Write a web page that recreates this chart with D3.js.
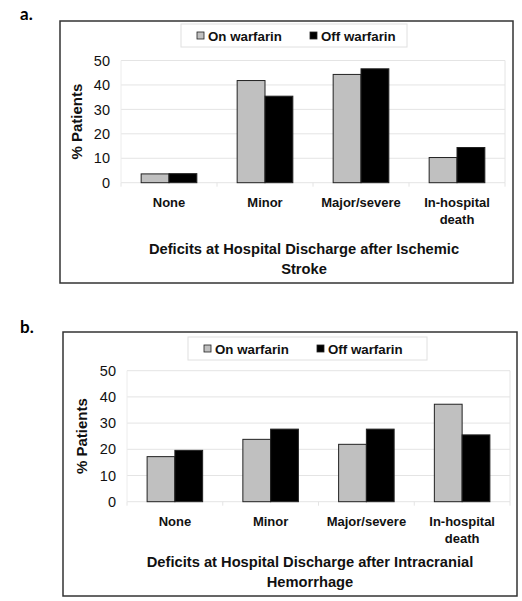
<!DOCTYPE html>
<html><head><meta charset="utf-8">
<script src="https://cdn.jsdelivr.net/npm/d3@7"></script>
<style>body{margin:0;background:#fff}svg{display:block}</style>
</head><body>
<svg id="chart" width="522" height="601"></svg>
<script>
const categories = ["None", "Minor", "Major/severe", "In-hospital death"];
const seriesNames = ["On warfarin", "Off warfarin"];
const seriesColors = ["#c0c0c0", "#000000"];
const yTicks = [0, 10, 20, 30, 40, 50];
const ischemicOn  = [3.6, 41.8, 44.3, 10.3];
const ischemicOff = [3.7, 35.4, 46.6, 14.4];
const hemorrhageOn  = [17.2, 23.8, 21.9, 37.2];
const hemorrhageOff = [19.6, 27.7, 27.7, 25.5];

const svg = d3.select("#chart");
const font = "Liberation Sans, Arial, sans-serif";

function panel(o) {
  const g = svg.append("g");
  g.append("text").attr("x", o.labelX).attr("y", o.labelY).text(o.label)
    .attr("font-family", "Lato, sans-serif").attr("font-weight", "bold").attr("font-size", 17).attr("fill", "#000");
  g.append("rect").attr("x", o.box[0]).attr("y", o.box[1]).attr("width", o.box[2]).attr("height", o.box[3])
    .attr("fill", "#fff").attr("stroke", "#333").attr("stroke-width", 1.5);

  const x = d3.scaleBand().domain(categories).range([o.px0, o.px1]).paddingInner(0.42).paddingOuter(0.21);
  const xs = d3.scaleBand().domain(seriesNames).range([0, x.bandwidth()]);
  const y = d3.scaleLinear().domain([0, 50]).range([o.py0, o.py1]);

  g.append("g").selectAll("line").data(yTicks).join("line")
    .attr("x1", o.px0).attr("x2", o.px1).attr("y1", d => y(d)).attr("y2", d => y(d))
    .attr("stroke", "#e4e4e4").attr("stroke-width", 1);
  g.append("line").attr("x1", o.px1).attr("x2", o.px1).attr("y1", y(50)).attr("y2", y(0)).attr("stroke", "#e4e4e4");
  g.append("line").attr("x1", o.px0).attr("x2", o.px0).attr("y1", y(50)).attr("y2", y(0)).attr("stroke", "#ececec");
  const step = (o.px1 - o.px0) / categories.length;
  g.append("g").selectAll("line").data(d3.range(categories.length + 1)).join("line")
    .attr("x1", i => o.px0 + i * step).attr("x2", i => o.px0 + i * step)
    .attr("y1", y(0)).attr("y2", y(0) + 4).attr("stroke", "#e4e4e4");

  const yAxis = d3.axisLeft(y).tickValues(yTicks).tickSize(0).tickPadding(0);
  const ya = g.append("g").attr("transform", `translate(${o.px0 - 11},0)`).call(yAxis);
  ya.select(".domain").remove();
  ya.selectAll("text").attr("font-family", font).attr("font-size", 14.5).attr("fill", "#111");

  const series = [o.on, o.off];
  series.forEach((vals, si) => {
    g.append("g").selectAll("rect").data(vals).join("rect")
      .attr("x", (d, i) => x(categories[i]) + xs(seriesNames[si]))
      .attr("width", xs.bandwidth())
      .attr("y", d => y(d)).attr("height", d => y(0) - y(d))
      .attr("fill", seriesColors[si]).attr("stroke", "#222").attr("stroke-width", 1);
  });

  const xl = g.append("g").attr("font-family", font).attr("font-weight", "bold").attr("font-size", 13)
    .attr("text-anchor", "middle").attr("fill", "#111");
  categories.forEach(c => {
    const parts = c === "In-hospital death" ? ["In-hospital", "death"] : [c];
    parts.forEach((p, k) => {
      xl.append("text").attr("x", x(c) + x.bandwidth() / 2).attr("y", o.catY + k * 17).text(p);
    });
  });

  g.append("text").attr("transform", `translate(${o.yTitleX},${(y(0) + y(50)) / 2}) rotate(-90)`)
    .attr("text-anchor", "middle").attr("font-family", font).attr("font-weight", "bold").attr("font-size", 15)
    .attr("fill", "#111").text("% Patients");

  o.title.forEach((t, k) => {
    g.append("text").attr("x", o.titleX).attr("y", o.titleY + k * 20).attr("text-anchor", "middle")
      .attr("font-family", font).attr("font-weight", "bold").attr("font-size", 14.7).attr("fill", "#111").text(t);
  });

  const L = o.legend;
  g.append("rect").attr("x", L[0]).attr("y", L[1]).attr("width", L[2]).attr("height", L[3])
    .attr("fill", "#fff").attr("stroke", "#e0e0e0");
  seriesNames.forEach((s, i) => {
    const lx = L[0] + 16 + i * 113;
    const cy = L[1] + L[3] / 2;
    g.append("rect").attr("x", lx).attr("y", cy - 3.5).attr("width", 7).attr("height", 7)
      .attr("fill", seriesColors[i]).attr("stroke", "#222").attr("stroke-width", 0.8);
    g.append("text").attr("x", lx + 11).attr("y", cy + 5).text(s)
      .attr("font-family", font).attr("font-weight", "bold").attr("font-size", 13.3).attr("fill", "#111");
  });
}

panel({
  label: "a.", labelX: 20, labelY: 20,
  box: [60, 21, 453, 262],
  px0: 121, px1: 505, py0: 182.7, py1: 60.5,
  on: ischemicOn, off: ischemicOff,
  catY: 207, yTitleX: 82,
  title: ["Deficits at Hospital Discharge after Ischemic", "Stroke"], titleX: 304, titleY: 254,
  legend: [181, 24, 226, 23]
});
panel({
  label: "b.", labelX: 20, labelY: 333,
  box: [63, 332, 454, 264],
  px0: 127, px1: 510, py0: 501.7, py1: 370.7,
  on: hemorrhageOn, off: hemorrhageOff,
  catY: 526, yTitleX: 87,
  title: ["Deficits at Hospital Discharge after Intracranial", "Hemorrhage"], titleX: 310, titleY: 567,
  legend: [188, 337, 239, 23]
});
</script>
</body></html>
